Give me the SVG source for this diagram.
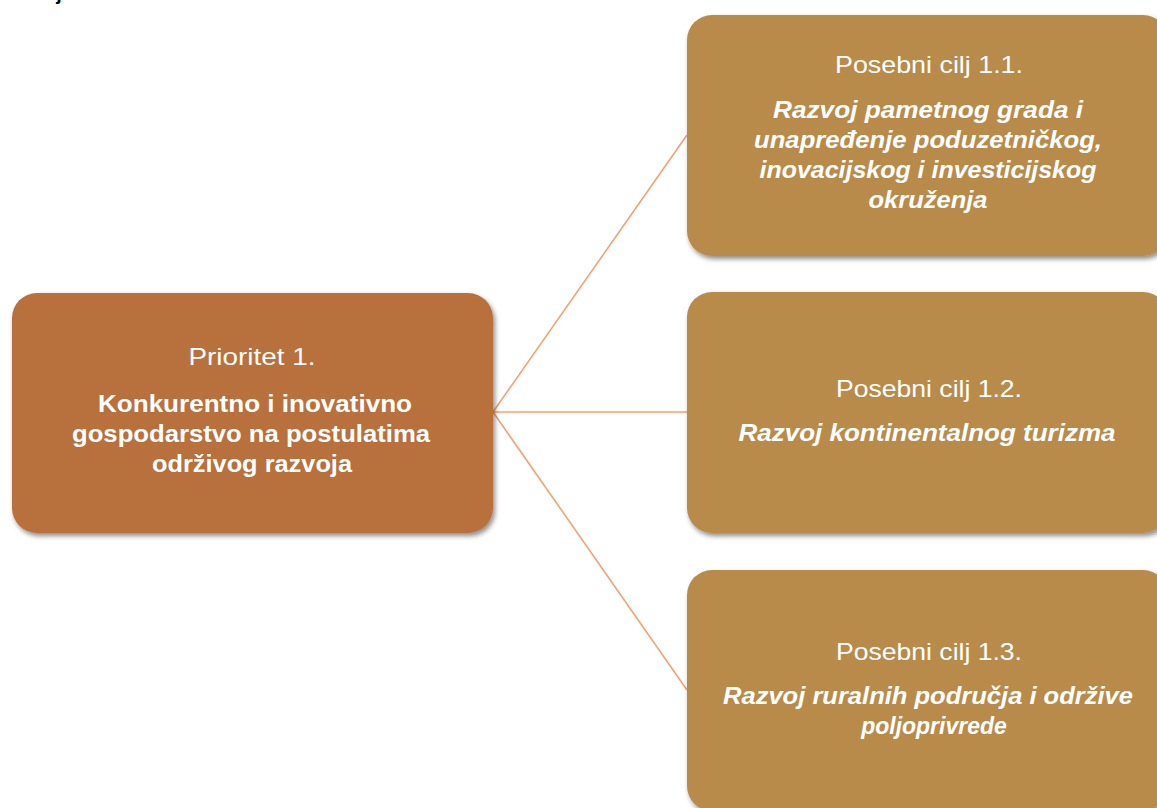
<svg xmlns="http://www.w3.org/2000/svg" width="1157" height="808" viewBox="0 0 1157 808">
<defs>
<filter id="sh" x="-10%" y="-10%" width="125%" height="130%">
<feDropShadow dx="2" dy="3" stdDeviation="2.5" flood-color="#000" flood-opacity="0.45"/>
</filter>
<style>
.main{fill:#B86F3E;filter:url(#sh)}
.sub{fill:#B98B4B;filter:url(#sh)}
.ttl{font-family:"Liberation Sans",Arial,sans-serif;font-size:24px;fill:#fff;text-anchor:middle}
.bd{font-family:"Liberation Sans",Arial,sans-serif;font-size:23px;font-weight:bold;fill:#fff;text-anchor:middle}
.bi{font-family:"Liberation Sans",Arial,sans-serif;font-size:23px;font-weight:bold;font-style:italic;fill:#fff;text-anchor:middle}
.con{stroke:#F3A275;stroke-width:1.6;fill:none}
</style>
</defs>
<rect width="1157" height="808" fill="#fff"/>
<text x="4" y="0" font-family="Liberation Sans,Arial,sans-serif" font-size="20" font-weight="bold" fill="#000">razvoja.</text>
<g id="connectors">
<line class="con" x1="493" y1="412" x2="687" y2="135"/>
<line class="con" x1="493" y1="412" x2="687" y2="412"/>
<line class="con" x1="493" y1="412" x2="687" y2="690"/>
</g>
<g id="node-prioritet">
<rect class="main" x="12" y="293" width="481" height="240" rx="25" ry="25"/>
<text class="ttl" x="252" y="365" textLength="127" lengthAdjust="spacingAndGlyphs">Prioritet 1.</text>
<text class="bd" x="255" y="412" textLength="314" lengthAdjust="spacingAndGlyphs">Konkurentno i inovativno</text>
<text class="bd" x="251" y="442" textLength="358" lengthAdjust="spacingAndGlyphs">gospodarstvo na postulatima</text>
<text class="bd" x="252" y="472" textLength="200" lengthAdjust="spacingAndGlyphs">održivog razvoja</text>
</g>
<g id="node-cilj-1-1">
<rect class="sub" x="687" y="15" width="481" height="241" rx="25" ry="25"/>
<text class="ttl" x="929" y="73" textLength="188" lengthAdjust="spacingAndGlyphs">Posebni cilj 1.1.</text>
<text class="bi" x="928" y="118" textLength="310" lengthAdjust="spacingAndGlyphs">Razvoj pametnog grada i</text>
<text class="bi" x="928" y="148" textLength="348" lengthAdjust="spacingAndGlyphs">unapređenje poduzetničkog,</text>
<text class="bi" x="928" y="178" textLength="337" lengthAdjust="spacingAndGlyphs">inovacijskog i investicijskog</text>
<text class="bi" x="928" y="208" textLength="119" lengthAdjust="spacingAndGlyphs">okruženja</text>
</g>
<g id="node-cilj-1-2">
<rect class="sub" x="687" y="292" width="481" height="241" rx="25" ry="25"/>
<text class="ttl" x="929" y="397" textLength="186" lengthAdjust="spacingAndGlyphs">Posebni cilj 1.2.</text>
<text class="bi" x="927" y="441" textLength="377" lengthAdjust="spacingAndGlyphs">Razvoj kontinentalnog turizma</text>
</g>
<g id="node-cilj-1-3">
<rect class="sub" x="687" y="570" width="481" height="241" rx="25" ry="25"/>
<text class="ttl" x="929" y="660" textLength="186" lengthAdjust="spacingAndGlyphs">Posebni cilj 1.3.</text>
<text class="bi" x="928" y="704" textLength="410" lengthAdjust="spacingAndGlyphs">Razvoj ruralnih područja i održive</text>
<text class="bi" x="934" y="734">poljoprivrede</text>
</g>
</svg>
